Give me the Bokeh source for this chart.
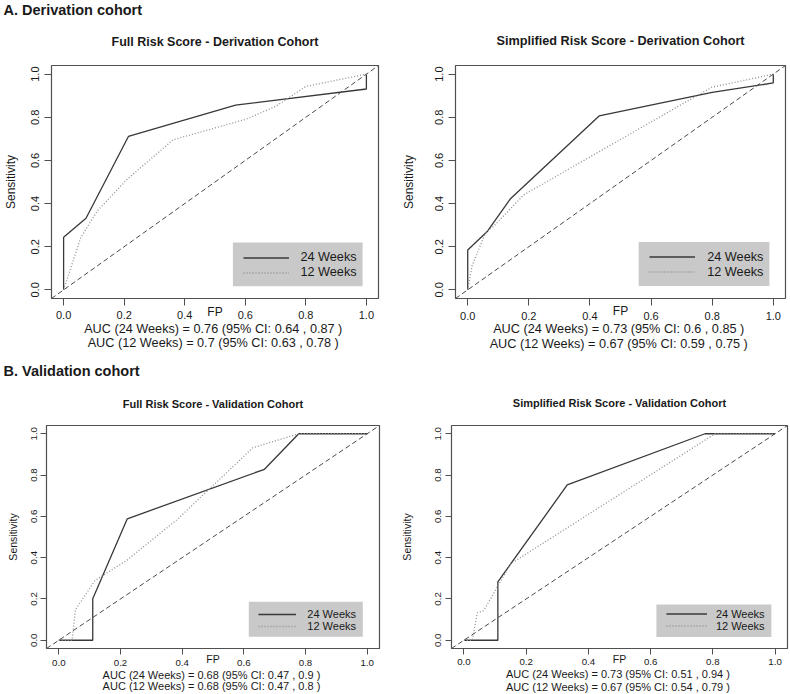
from bokeh.plotting import figure
from bokeh.models import (Range1d, FixedTicker, PrintfTickFormatter,
                          Legend, LegendItem, Slope, Title, BoxAnnotation)
from bokeh.layouts import column, row
from bokeh.embed import file_html
from bokeh.resources import INLINE

# ---------------- data ----------------
TICKS = [0.0, 0.2, 0.4, 0.6, 0.8, 1.0]
SERIES_NAMES = ["24 Weeks", "12 Weeks"]
SECTION_A = "A. Derivation cohort"
SECTION_B = "B. Validation cohort"
X_LABEL = "FP"
Y_LABEL = "Sensitivity"
TITLES = [
    "Full Risk Score - Derivation Cohort",
    "Simplified Risk Score - Derivation Cohort",
    "Full Risk Score - Validation Cohort",
    "Simplified Risk Score - Validation Cohort",
]

D_FULL_24_FP = [0.0, 0.0, 0.074, 0.214, 0.568, 1.0, 1.0]
D_FULL_24_SENS = [0.0, 0.244, 0.332, 0.711, 0.856, 0.931, 1.0]
D_FULL_12_FP = [0.0, 0.057, 0.112, 0.211, 0.362, 0.60, 0.70, 0.80, 1.0]
D_FULL_12_SENS = [0.0, 0.244, 0.367, 0.514, 0.696, 0.79, 0.85, 0.943, 1.0]

D_SIMP_24_FP = [0.0, 0.0, 0.063, 0.139, 0.430, 0.80, 1.0, 1.0]
D_SIMP_24_SENS = [0.0, 0.185, 0.269, 0.421, 0.806, 0.915, 0.959, 1.0]
D_SIMP_12_FP = [0.0, 0.014, 0.058, 0.085, 0.183, 0.798, 1.0]
D_SIMP_12_SENS = [0.0, 0.11, 0.264, 0.295, 0.44, 0.939, 1.0]

V_FULL_24_FP = [0.0, 0.110, 0.110, 0.222, 0.667, 0.778, 1.0]
V_FULL_24_SENS = [0.0, 0.0, 0.201, 0.588, 0.828, 1.0, 1.0]
V_FULL_12_FP = [0.0, 0.043, 0.054, 0.117, 0.222, 0.384, 0.629, 0.778, 1.0]
V_FULL_12_SENS = [0.0, 0.0, 0.148, 0.289, 0.389, 0.585, 0.932, 1.0, 1.0]

V_SIMP_24_FP = [0.0, 0.109, 0.109, 0.332, 0.775, 1.0]
V_SIMP_24_SENS = [0.0, 0.0, 0.283, 0.752, 1.0, 1.0]
V_SIMP_12_FP = [0.0, 0.027, 0.043, 0.064, 0.15, 0.807, 1.0]
V_SIMP_12_SENS = [0.0, 0.0, 0.133, 0.144, 0.37, 1.0, 1.0]

AUC_TEXTS = [
    ["AUC (24 Weeks) =  0.76 (95% CI: 0.64 , 0.87 )",
     "AUC (12 Weeks) =  0.7 (95% CI: 0.63 , 0.78 )"],
    ["AUC (24 Weeks) =  0.73 (95% CI: 0.6 , 0.85 )",
     "AUC (12 Weeks) =  0.67 (95% CI: 0.59 , 0.75 )"],
    ["AUC (24 Weeks) =  0.68 (95% CI: 0.47 , 0.9 )",
     "AUC (12 Weeks) =  0.68 (95% CI: 0.47 , 0.8 )"],
    ["AUC (24 Weeks) =  0.73 (95% CI: 0.51 , 0.94 )",
     "AUC (12 Weeks) =  0.67 (95% CI: 0.54 , 0.79 )"],
]

# ---------------- styling ----------------
FONT = "Liberation Sans"
TXT = "#1a1a1a"
SOLID_COLOR = "#383838"
DOT_COLOR = "#8f8f8f"
DIAG_COLOR = "#4a4a4a"
BOX_COLOR = "#505050"
LEGEND_BG = "#c9c9c9"


def mk_title(text, size, bold, align, valign, standoff, offset=0):
    kw = dict(text=text, align=align, vertical_align=valign, offset=offset,
              text_font=FONT, text_font_size=f"{size}px",
              text_font_style="bold" if bold else "normal", text_color=TXT)
    try:
        return Title(standoff=standoff, **kw)
    except Exception:
        return Title(standoff=max(standoff, 0), **kw)


def make_panel(cfg, fp24, se24, fp12, se12, title, aucs, header=None):
    W, H = cfg["W"], cfg["H"]
    L, R, T, B = cfg["borders"]
    p = figure(width=W, height=H, min_border_left=L, min_border_right=R,
               min_border_top=T, min_border_bottom=B, title=None,
               x_range=Range1d(-0.04, 1.04), y_range=Range1d(-0.04, 1.04),
               output_backend="svg", toolbar_location=None)
    p.xgrid.visible = False
    p.ygrid.visible = False
    p.background_fill_color = "white"
    p.border_fill_color = "white"
    p.outline_line_color = BOX_COLOR
    p.outline_line_width = 1.2

    for ax, so, lso in ((p.xaxis, cfg["xso"], cfg["xlso"]),
                        (p.yaxis, cfg["yso"], cfg["ylso"])):
        ax.ticker = FixedTicker(ticks=TICKS)
        ax.formatter = PrintfTickFormatter(format="%.1f")
        ax.axis_line_color = None
        ax.major_tick_in = 0
        ax.major_tick_out = cfg["tick"]
        ax.major_tick_line_color = BOX_COLOR
        ax.minor_tick_line_color = None
        ax.major_label_text_font = FONT
        ax.major_label_text_font_size = f"{cfg['tickfs']}px"
        ax.major_label_text_color = TXT
        ax.major_label_standoff = so
        ax.axis_label_text_font = FONT
        ax.axis_label_text_font_style = "normal"
        ax.axis_label_text_color = TXT
        ax.axis_label_text_font_size = f"{cfg['labfs']}px"
        ax.axis_label_standoff = lso
    p.yaxis.major_label_orientation = "vertical"
    p.yaxis.axis_label = Y_LABEL
    p.xaxis.axis_label = X_LABEL

    # titles above: first added sits nearest to the plot box
    p.add_layout(mk_title(title, cfg["titlefs"], True, "center", "bottom",
                          cfg["title_so"]), "above")
    if header is not None:
        p.add_layout(mk_title(header, 14.5, True, "left", "bottom",
                              cfg["head_so"], cfg["head_off"]), "above")
    # AUC lines below the axis
    for t, so in zip(aucs, cfg["auc_so"]):
        p.add_layout(mk_title(t, cfg["aucfs"], False, "center", "top", so),
                     "below")

    p.add_layout(Slope(gradient=1, y_intercept=0, line_color=DIAG_COLOR,
                       line_dash="5 3", line_width=1))
    r24 = p.line(fp24, se24, line_color=SOLID_COLOR, line_width=1.3)
    r12 = p.line(fp12, se12, line_color=DOT_COLOR, line_width=1.3,
                 line_dash="1 2")

    bl, br, bb, bt = cfg["legbox"]
    p.add_layout(BoxAnnotation(left=bl, right=br, bottom=bb, top=bt,
                               left_units="screen", right_units="screen",
                               bottom_units="screen", top_units="screen",
                               fill_color=LEGEND_BG, fill_alpha=1.0,
                               line_color=None, level="underlay"))
    lg = Legend(items=[LegendItem(label=SERIES_NAMES[0], renderers=[r24]),
                       LegendItem(label=SERIES_NAMES[1], renderers=[r12])],
                location=cfg["leg"], background_fill_alpha=0.0,
                border_line_color=None, padding=0, spacing=0, margin=0,
                glyph_width=cfg["legglyph"], glyph_height=cfg["legrow"],
                label_height=cfg["legrow"], label_width=10,
                label_standoff=cfg["legso"], label_text_font=FONT,
                label_text_font_size=f"{cfg['legfs']}px",
                label_text_color=TXT)
    p.add_layout(lg)
    return p


CFG1 = dict(W=395, H=352, borders=(51, 17, 65, 54), tick=7,
            xso=5, xlso=-17, yso=5, ylso=11,
            tickfs=11, titlefs=12.5, aucfs=12.7, legfs=12.7, labfs=12,
            title_so=34, head_so=-4, head_off=-48, auc_so=[0.6, -5.6],
            leg=(192.4, 18.1), legbox=(181.4, 311.1, 12.2, 55.9),
            legglyph=46, legrow=15, legso=11)
CFG2 = dict(W=395, H=352, borders=(60, 5, 64, 52), tick=7,
            xso=6, xlso=-19, yso=5, ylso=17,
            tickfs=11, titlefs=12.7, aucfs=12.7, legfs=12.7, labfs=12,
            title_so=36, auc_so=[3.6, -7.2],
            leg=(194.2, 18.9), legbox=(183.2, 313.9, 12.4, 56.4),
            legglyph=46, legrow=15, legso=12)
CFG3 = dict(W=395, H=342, borders=(46, 16, 73, 45), tick=6,
            xso=5, xlso=-16, yso=3, ylso=10,
            tickfs=9.7, titlefs=11, aucfs=11, legfs=11, labfs=10.5,
            title_so=31, head_so=3, head_off=-43, auc_so=[3.3, -8.5],
            leg=(212.3, 16.1), legbox=(202.3, 316.3, 11.7, 46.7),
            legglyph=38, legrow=12, legso=11)
CFG4 = dict(W=395, H=342, borders=(56, 3, 71, 46), tick=6,
            xso=4, xlso=-15, yso=4, ylso=20,
            tickfs=9.7, titlefs=11, aucfs=11, legfs=11, labfs=10.5,
            title_so=34, auc_so=[1.5, -4.5],
            leg=(214.9, 16.1), legbox=(204.9, 319.9, 11.6, 44.0),
            legglyph=41, legrow=11, legso=9)

p1 = make_panel(CFG1, D_FULL_24_FP, D_FULL_24_SENS, D_FULL_12_FP,
                D_FULL_12_SENS, TITLES[0], AUC_TEXTS[0], header=SECTION_A)
p2 = make_panel(CFG2, D_SIMP_24_FP, D_SIMP_24_SENS, D_SIMP_12_FP,
                D_SIMP_12_SENS, TITLES[1], AUC_TEXTS[1])
p3 = make_panel(CFG3, V_FULL_24_FP, V_FULL_24_SENS, V_FULL_12_FP,
                V_FULL_12_SENS, TITLES[2], AUC_TEXTS[2], header=SECTION_B)
p4 = make_panel(CFG4, V_SIMP_24_FP, V_SIMP_24_SENS, V_SIMP_12_FP,
                V_SIMP_12_SENS, TITLES[3], AUC_TEXTS[3])

layout = column(row(p1, p2, spacing=0), row(p3, p4, spacing=0), spacing=0)
with open("out.html", "w") as f:
    f.write(file_html(layout, INLINE))
